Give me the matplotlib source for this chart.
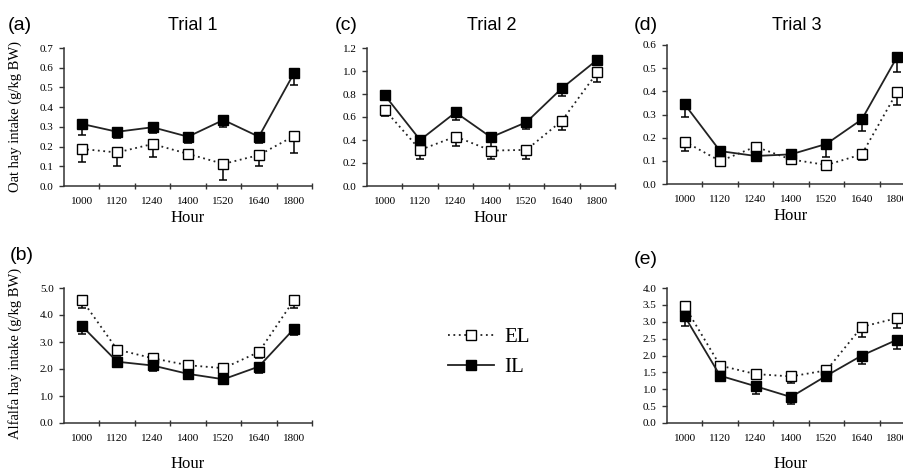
import matplotlib
matplotlib.use("Agg")
import matplotlib.pyplot as plt
from matplotlib.lines import Line2D
from matplotlib.ticker import FixedLocator, FormatStrFormatter
import numpy as np

hours = ["1000", "1120", "1240", "1400", "1520", "1640", "1800"]

# (a) Trial 1 oat hay
a_il = [0.315, 0.275, 0.298, 0.250, 0.335, 0.250, 0.575]
a_il_err = [0.055, 0.032, 0.030, 0.033, 0.035, 0.033, 0.065]
a_el = [0.188, 0.170, 0.213, 0.163, 0.112, 0.157, 0.254]
a_el_err = [0.065, 0.070, 0.068, 0.027, 0.082, 0.054, 0.088]

# (c) Trial 2 oat hay
c_il = [0.790, 0.400, 0.640, 0.424, 0.555, 0.850, 1.098]
c_il_err = [0.040, 0.030, 0.070, 0.090, 0.062, 0.070, 0.040]
c_el = [0.663, 0.314, 0.430, 0.308, 0.314, 0.567, 0.988]
c_el_err = [0.058, 0.081, 0.078, 0.075, 0.079, 0.079, 0.084]

# (d) Trial 3 oat hay
d_il = [0.344, 0.142, 0.121, 0.128, 0.173, 0.279, 0.550]
d_il_err = [0.054, 0.012, 0.010, 0.008, 0.055, 0.049, 0.065]
d_el = [0.183, 0.099, 0.161, 0.106, 0.082, 0.128, 0.399]
d_el_err = [0.041, 0.010, 0.010, 0.008, 0.007, 0.024, 0.058]

# (b) Trial 1 alfalfa hay
b_il = [3.60, 2.27, 2.13, 1.82, 1.62, 2.09, 3.50]
b_il_err = [0.32, 0.10, 0.20, 0.20, 0.08, 0.22, 0.24]
b_el = [4.57, 2.72, 2.40, 2.14, 2.03, 2.63, 4.57]
b_el_err = [0.32, 0.25, 0.12, 0.15, 0.25, 0.24, 0.32]

# (e) Trial 3 alfalfa hay
e_il = [3.16, 1.40, 1.09, 0.77, 1.40, 2.00, 2.47]
e_il_err = [0.30, 0.10, 0.22, 0.21, 0.12, 0.24, 0.28]
e_el = [3.46, 1.70, 1.45, 1.38, 1.56, 2.85, 3.11]
e_el_err = [0.10, 0.10, 0.07, 0.19, 0.06, 0.31, 0.29]

W, H = 904, 472
fig = plt.figure(figsize=(W / 100, H / 100), dpi=100)

SERIF = "Liberation Serif"
SANS = "Liberation Sans"
AXC = "#333333"


def px_axes(left, top, right, bottom):
    return fig.add_axes([left / W, 1 - bottom / H, (right - left) / W, (bottom - top) / H])


def draw(ax, il, il_err, el, el_err, ymax, ystep, labelpad):
    x = np.arange(len(hours))
    z = np.zeros(len(hours))
    ax.errorbar(x, el, yerr=[el_err, z], fmt="none", ecolor="black", elinewidth=1.1,
                capsize=3, capthick=1.1, zorder=2)
    ax.errorbar(x, il, yerr=[il_err, z], fmt="none", ecolor="black", elinewidth=1.1,
                capsize=3, capthick=1.1, zorder=2)
    ax.plot(x, el, linestyle=(0, (1, 2)), color="#222222", linewidth=1.3, marker="s",
            markersize=6.5, markerfacecolor="white", markeredgecolor="black",
            markeredgewidth=1.0, zorder=3)
    ax.plot(x, il, linestyle="-", color="#222222", linewidth=1.3, marker="s",
            markersize=6.5, markerfacecolor="black", markeredgecolor="black", zorder=4)
    ax.set_xlim(-0.5, 6.5)
    ax.set_ylim(0, ymax)
    for s in ["top", "right"]:
        ax.spines[s].set_visible(False)
    for s in ["left", "bottom"]:
        ax.spines[s].set_color(AXC)
        ax.spines[s].set_linewidth(1.1)
    ax.xaxis.set_major_locator(FixedLocator(np.arange(0.5, 7.0, 1.0)))
    ax.xaxis.set_minor_locator(FixedLocator(x))
    ax.set_xticklabels([], minor=False)
    ax.set_xticklabels(hours, minor=True, fontfamily=SERIF, fontsize=8)
    ax.tick_params(axis="x", which="major", direction="inout", length=4, width=1, color=AXC)
    ax.tick_params(axis="x", which="minor", length=0, pad=8)
    yt = np.arange(0, ymax + ystep / 2, ystep)
    ax.set_yticks(yt)
    ax.yaxis.set_major_formatter(FormatStrFormatter("%.1f"))
    ax.tick_params(axis="y", direction="out", length=3.5, width=1, color=AXC, pad=4)
    for lab in ax.get_yticklabels():
        lab.set_fontfamily(SERIF)
        lab.set_fontsize(8)
    ax.set_xlabel("Hour", fontfamily=SERIF, fontsize=12, labelpad=labelpad)


axa = px_axes(64, 48, 312, 186)
draw(axa, a_il, a_il_err, a_el, a_el_err, 0.7, 0.1, 3)
axc = px_axes(367, 48, 615, 186)
draw(axc, c_il, c_il_err, c_el, c_el_err, 1.2, 0.2, 3)
axd = px_axes(667, 45, 915, 184)
draw(axd, d_il, d_il_err, d_el, d_el_err, 0.6, 0.1, 3)
axb = px_axes(64, 288, 312, 423)
draw(axb, b_il, b_il_err, b_el, b_el_err, 5.0, 1.0, 9)
axe = px_axes(667, 288, 915, 423)
draw(axe, e_il, e_il_err, e_el, e_el_err, 4.0, 0.5, 9)


def ftext(x, y, s, **kw):
    fig.text(x / W, 1 - y / H, s, **kw)


ftext(193, 25, "Trial 1", fontfamily=SANS, fontsize=13, ha="center", va="center")
ftext(492, 25, "Trial 2", fontfamily=SANS, fontsize=13, ha="center", va="center")
ftext(797, 25, "Trial 3", fontfamily=SANS, fontsize=13, ha="center", va="center")
ftext(8, 25, "(a)", fontfamily=SANS, fontsize=14, ha="left", va="center")
ftext(335, 25, "(c)", fontfamily=SANS, fontsize=14, ha="left", va="center")
ftext(634, 25, "(d)", fontfamily=SANS, fontsize=14, ha="left", va="center")
ftext(10, 256, "(b)", fontfamily=SANS, fontsize=14, ha="left", va="center")
ftext(634, 259, "(e)", fontfamily=SANS, fontsize=14, ha="left", va="center")
ftext(15, 117, "Oat hay intake (g/kg BW)", fontfamily=SERIF, fontsize=10.5,
      rotation=90, ha="center", va="center")
ftext(15, 353, "Alfalfa hay intake (g/kg BW)", fontfamily=SERIF, fontsize=10.5,
      rotation=90, ha="center", va="center")

handles = [
    Line2D([], [], linestyle=(0, (1, 2)), color="#222222", linewidth=1.3, marker="s",
           markersize=6.5, markerfacecolor="white", markeredgecolor="black"),
    Line2D([], [], linestyle="-", color="#222222", linewidth=1.3, marker="s",
           markersize=6.5, markerfacecolor="black", markeredgecolor="black"),
]
fig.legend(handles, ["EL", "IL"], loc="center", bbox_to_anchor=(489 / W, 1 - 352 / H),
           frameon=False, prop={"family": SERIF, "size": 15}, handlelength=2.2,
           handletextpad=0.5, labelspacing=0.5, numpoints=1)

fig.savefig("out.png", dpi=100)
